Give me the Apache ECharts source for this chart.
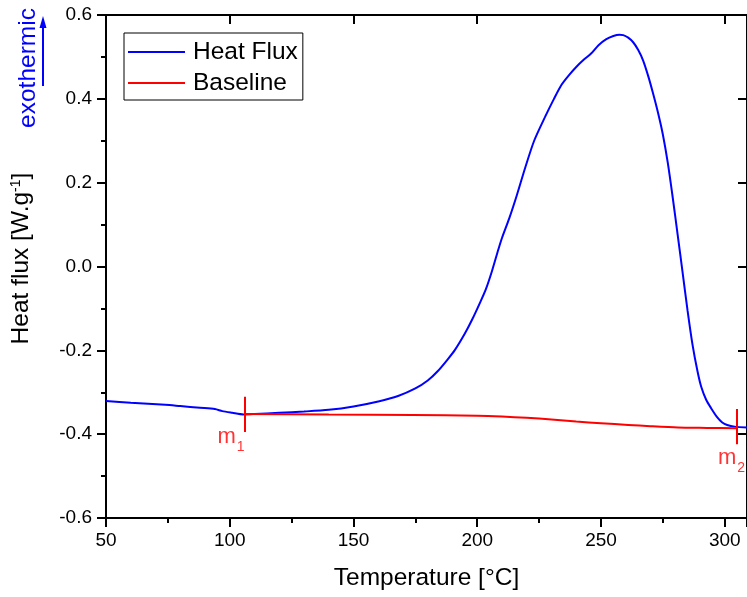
<!DOCTYPE html>
<html>
<head>
<meta charset="utf-8">
<script src="https://cdn.jsdelivr.net/npm/echarts@6/dist/echarts.min.js"></script>
<style>html,body{margin:0;padding:0;background:#fff}#c{width:747px;height:597px}</style>
</head>
<body>
<div id="c"></div>
<script>
// Heat flux curve (temperature °C, W/g)
var heatT = [50, 60, 74, 80, 88, 94, 97, 101, 105.5, 110, 120, 130, 140, 150, 160, 168, 175, 180, 184, 188, 191, 195, 198, 201, 203.5, 206, 208.5, 210, 213, 216, 219.5, 223, 227.5, 231, 234, 237, 240, 243, 246, 249, 252, 255, 257.5, 259, 261, 263, 265, 267, 269, 271, 273, 275, 277, 279, 281, 283, 285, 287, 289, 290.5, 292.5, 294.5, 297, 299, 301, 304, 309];
var heatQ = [-0.321, -0.325, -0.330, -0.333, -0.337, -0.340, -0.345, -0.349, -0.353, -0.352, -0.349, -0.346, -0.342, -0.334, -0.322, -0.309, -0.291, -0.272, -0.250, -0.222, -0.199, -0.160, -0.126, -0.088, -0.054, -0.010, 0.040, 0.068, 0.116, 0.170, 0.238, 0.300, 0.358, 0.400, 0.433, 0.456, 0.476, 0.493, 0.508, 0.528, 0.542, 0.550, 0.553, 0.552, 0.546, 0.535, 0.517, 0.492, 0.456, 0.414, 0.368, 0.315, 0.247, 0.164, 0.075, -0.015, -0.106, -0.187, -0.250, -0.287, -0.318, -0.338, -0.360, -0.372, -0.378, -0.382, -0.384];
// Baseline
var baseT = [106, 140, 174, 200, 210, 220, 230, 240, 250, 261, 270, 281, 293, 305];
var baseQ = [-0.352, -0.353, -0.354, -0.356, -0.358, -0.361, -0.365, -0.370, -0.374, -0.378, -0.381, -0.384, -0.385, -0.386];
// Integration limits
var markNames = ['1', '2'];
var markT = [106, 305];
var markLow = [-0.395, -0.424];
var markHigh = [-0.311, -0.340];
// Axis ticks
var xMin = 50, xMax = 309, xStep = 50;
var yMin = -0.6, yMax = 0.6, yStep = 0.2;

function zip(a, b) { return a.map(function (v, i) { return [v, b[i]]; }); }

var FONT = 'Liberation Sans, Arial, sans-serif';
var chart = echarts.init(document.getElementById('c'));

var markLines = markT.map(function (t, i) {
  return [{ coord: [t, markHigh[i]] }, { coord: [t, markLow[i]] }];
});
var labelOffsets = [[0, 5], [8, 14]];
var markLabels = markT.map(function (t, i) {
  return { value: [t, markLow[i]], name: markNames[i], label: { offset: labelOffsets[i] } };
});

var axisLine = { show: true, onZero: false, lineStyle: { color: '#000', width: 2 } };

chart.setOption({
  animation: false,
  textStyle: { fontFamily: FONT },
  grid: { left: 106, right: -3, top: 15, bottom: 79, containLabel: false },
  legend: {
    left: 124, top: 33, orient: 'vertical',
    borderColor: '#000', borderWidth: 1, borderRadius: 0,
    padding: [5, 5, 3, 4],
    itemWidth: 57, itemHeight: 2, itemGap: 3,
    icon: 'rect',
    textStyle: { fontSize: 24.5, color: '#000', fontFamily: FONT, lineHeight: 28, padding: [0, 0, 0, 3] },
    data: ['Heat Flux', 'Baseline']
  },
  xAxis: [{
    type: 'value', min: xMin, max: xMax, interval: xStep,
    position: 'bottom',
    name: 'Temperature [°C]', nameLocation: 'middle', nameGap: 48,
    nameTextStyle: { fontSize: 24.5, color: '#000', fontFamily: FONT },
    axisLine: axisLine,
    axisTick: { show: true, inside: false, length: 9, lineStyle: { color: '#000', width: 2 } },
    minorTick: { show: true, splitNumber: 2, length: 5, lineStyle: { color: '#000', width: 2 } },
    axisLabel: { fontSize: 19, color: '#000', margin: 13, fontFamily: FONT, showMaxLabel: false },
    splitLine: { show: false }
  }, {
    type: 'value', min: xMin, max: xMax, interval: xStep,
    position: 'top',
    axisLine: axisLine,
    axisTick: { show: true, inside: true, length: 9, lineStyle: { color: '#000', width: 2 } },
    axisLabel: { show: false },
    splitLine: { show: false }
  }],
  yAxis: [{
    type: 'value', min: yMin, max: yMax, interval: yStep,
    position: 'left',
    name: 'Heat flux [W.g{sup|-1}]', nameLocation: 'middle', nameGap: 72,
    nameTextStyle: {
      fontSize: 24.5, color: '#000', fontFamily: FONT, padding: [0, 0, 0, 16],
      rich: { sup: { fontSize: 14, verticalAlign: 'top', color: '#000', fontFamily: FONT, padding: [0, 0, 8, 0] } }
    },
    axisLine: axisLine,
    axisTick: { show: true, inside: false, length: 9, lineStyle: { color: '#000', width: 2 } },
    minorTick: { show: true, splitNumber: 2, length: 5, lineStyle: { color: '#000', width: 2 } },
    axisLabel: { fontSize: 19, color: '#000', margin: 14, fontFamily: FONT, formatter: function (v) { return v.toFixed(1); } },
    splitLine: { show: false }
  }, {
    type: 'value', min: yMin, max: yMax, interval: yStep,
    position: 'right',
    axisLine: axisLine,
    axisTick: { show: true, inside: true, length: 9, lineStyle: { color: '#000', width: 2 } },
    axisLabel: { show: false },
    splitLine: { show: false }
  }],
  series: [{
    name: 'Heat Flux', type: 'line', data: zip(heatT, heatQ),
    showSymbol: false, symbol: 'none', smooth: 0.25,
    lineStyle: { color: '#0000ff', width: 2 }, itemStyle: { color: '#0000ff' },
    z: 3
  }, {
    name: 'Baseline', type: 'line', data: zip(baseT, baseQ),
    showSymbol: false, symbol: 'none', smooth: 0.25,
    lineStyle: { color: '#ff0000', width: 2 }, itemStyle: { color: '#ff0000' },
    z: 4,
    markLine: {
      silent: true, symbol: 'none', animation: false,
      label: { show: false },
      lineStyle: { color: '#ff0000', width: 2, type: 'solid' },
      data: markLines
    }
  }, {
    name: 'marks', type: 'scatter', data: markLabels,
    symbolSize: 0, silent: true, z: 5,
    label: {
      show: true, position: 'left', distance: 0,
      formatter: function (p) { return '{m|m}{s|' + p.name + '}'; },
      rich: {
        m: { fontSize: 22, color: '#ff0000', fontFamily: FONT, lineHeight: 24 },
        s: { fontSize: 14, color: '#ff0000', fontFamily: FONT, padding: [20, 0, 0, 1] }
      }
    }
  }],
  graphic: [{
    type: 'text', x: 28, y: 68, rotation: Math.PI / 2,
    style: { text: 'exothermic', fill: '#0000ff', font: '24.5px ' + FONT, align: 'center', verticalAlign: 'middle' }
  }, {
    type: 'line', shape: { x1: 43, y1: 86, x2: 43, y2: 26 },
    style: { stroke: '#0000ff', lineWidth: 2 }
  }, {
    type: 'polygon', shape: { points: [[43, 16], [39.5, 28], [46.5, 28]] },
    style: { fill: '#0000ff' }
  }]
});
</script>
</body>
</html>
